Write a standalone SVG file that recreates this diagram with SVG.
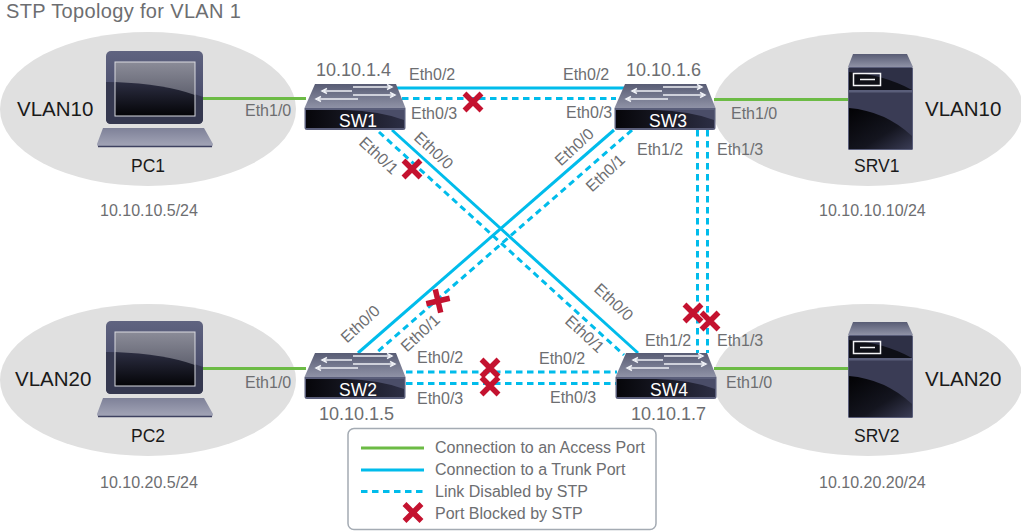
<svg xmlns="http://www.w3.org/2000/svg" width="1021" height="531" viewBox="0 0 1021 531">
<style>
text{font-family:"Liberation Sans",Arial,sans-serif;fill:#6d6e71;font-size:16px}
.ip{font-size:18px}
.tt{font-size:20px;letter-spacing:.35px}
.v{font-size:20.500px;fill:#1a1a1a}
.n{font-size:17.500px;fill:#1a1a1a}
.sw{font-size:17.500px;fill:#fff;text-anchor:middle}
.m{text-anchor:middle}
.zone{fill:#e0e0e0}
.acc{stroke:#6cbb45;stroke-width:3;fill:none}
.trk{stroke:#00bceb;stroke-width:3;fill:none}
.dis{stroke:#00bceb;stroke-width:3;fill:none;stroke-dasharray:6.500 4.500}
.x{stroke:#c4122f;stroke-width:5.500;fill:none}
.arr{stroke:#eef0f5;stroke-width:1.400;fill:none}
</style>
<defs>
<linearGradient id="front" x1="0" y1="0" x2="0" y2="1"><stop offset="0" stop-color="#5f6380"/><stop offset="1" stop-color="#3e4160"/></linearGradient>
<linearGradient id="top" x1="0" y1="0" x2="0" y2="1"><stop offset="0" stop-color="#585c74"/><stop offset="1" stop-color="#8f92a6"/></linearGradient>
<linearGradient id="scr" x1="0" y1="0" x2="0" y2="1"><stop offset="0" stop-color="#8b8c98"/><stop offset="1" stop-color="#474958"/></linearGradient>
<linearGradient id="scrd" x1="0" y1="0" x2="0" y2="1"><stop offset="0" stop-color="#2c2e42"/><stop offset="1" stop-color="#040407"/></linearGradient>
<linearGradient id="dark" x1="0" y1="0" x2="1" y2="0"><stop offset="0" stop-color="#06060a"/><stop offset="0.6" stop-color="#1c1d2a"/><stop offset="1" stop-color="#2c2e44"/></linearGradient>
<linearGradient id="srv" x1="0" y1="0" x2="1" y2="1"><stop offset="0" stop-color="#020204"/><stop offset="0.6" stop-color="#14151f"/><stop offset="1" stop-color="#3a3c55"/></linearGradient>
<linearGradient id="key" x1="0" y1="0" x2="0" y2="1"><stop offset="0" stop-color="#7e8198"/><stop offset="1" stop-color="#a4a6b8"/></linearGradient>
<g id="laptop">
<rect x="106" y="51" width="97" height="73" rx="5" fill="url(#front)"/>
<path d="M106 82Q165 82 203 97V119Q203 124 198 124H111Q106 124 106 119Z" fill="#35384f"/>
<rect x="115" y="62" width="80" height="54" fill="url(#scr)"/>
<path d="M115 82Q165 84 195 95V116H115Z" fill="url(#scrd)"/>
<rect x="115" y="62" width="80" height="54" fill="none" stroke="#d9dae0" stroke-width="1"/>
<path d="M103 128H204L213 144Q213 147 210 147H100Q97 147 97 144Z" fill="url(#key)"/>
<path d="M98 146.500H212" stroke="#3e4160" stroke-width="1.500"/>
</g>
<g id="switch">
<path d="M315 84H396L405.500 108H304.500Z" fill="url(#top)"/>
<path d="M304.500 108H405.500V127.500Q405.500 130 403 130H307Q304.500 130 304.500 127.500Z" fill="#5a5e7a"/>
<path d="M306 110H404V128H306Z" fill="url(#dark)"/>
<path d="M345 110H404V120Q380 111 345 110Z" fill="#4a4d68"/>
<path class="arr" d="M352 91H324M327 88.500L322 91L327 93.500M353 87H390M387 84.500L392 87L387 89.500M353 95H393M390 92.500L395 95L390 97.500M358 99H318M321 96.500L316 99L321 101.500"/>
</g>
<g id="server">
<path d="M853 54H907L913 67H848Z" fill="url(#top)"/>
<rect x="848" y="67" width="65" height="83" rx="1.500" fill="#5a5e7a"/>
<path d="M849 68H912V90H849Z" fill="#2e3046"/>
<path d="M849 72Q885 75 912 90H849Z" fill="#0e0f16"/>
<path d="M849 92.500H912V149H849Z" fill="#3a3c55"/>
<path d="M849 108Q885 111 912 136V149H849Z" fill="url(#srv)"/>
<rect x="853.500" y="73.500" width="27" height="12" fill="none" stroke="#f4f4f6" stroke-width="1.500"/>
<path d="M860 79.500H875" stroke="#f4f4f6" stroke-width="1.500"/>
</g>
<path id="xm" d="M-8.500 -8.500L8.500 8.500M8.500 -8.500L-8.500 8.500" class="x"/>
</defs>
<rect width="1021" height="531" fill="#fff"/>
<text class="tt" x="6" y="17.500">STP Topology for VLAN 1</text>
<ellipse class="zone" cx="148" cy="109" rx="148" ry="77"/>
<ellipse class="zone" cx="148" cy="380" rx="148" ry="76"/>
<ellipse class="zone" cx="868" cy="109" rx="155" ry="77"/>
<ellipse class="zone" cx="868" cy="380" rx="155" ry="76"/>
<g id="connectors">
<path class="acc" d="M203 98.500H306"/>
<path class="acc" d="M714 99.500H848"/>
<path class="acc" d="M203 368.500H306"/>
<path class="acc" d="M714 368.500H848"/>
<path class="trk" d="M396 88H624"/>
<path class="dis" d="M402 98.500H616"/>
<path class="trk" d="M392 130L638 353"/>
<path class="dis" d="M379 132L624 355"/>
<path class="trk" d="M614 130L358 353"/>
<path class="dis" d="M632 130L376 353"/>
<path class="dis" d="M697.500 130V353"/>
<path class="dis" d="M707.500 130V353"/>
<path class="dis" d="M406 372H617"/>
<path class="dis" d="M406 383.500H617"/>
</g>
<g id="blocks">
<use href="#xm" x="473" y="102"/>
<use href="#xm" x="412" y="169"/>
<use href="#xm" transform="translate(438 301) rotate(32)"/>
<use href="#xm" x="490" y="368"/>
<use href="#xm" x="490" y="386"/>
<use href="#xm" x="693" y="313"/>
<use href="#xm" x="710" y="321"/>
</g>
<g id="PC1"><use href="#laptop"/><text class="n" x="131" y="172">PC1</text><text class="v" x="17" y="116">VLAN10</text><text x="100" y="216">10.10.10.5/24</text></g>
<g id="PC2"><use href="#laptop" y="270"/><text class="n" x="131" y="442">PC2</text><text class="v" x="15" y="386">VLAN20</text><text x="100" y="488">10.10.20.5/24</text></g>
<g id="SRV1"><use href="#server"/><text class="n" x="854" y="172">SRV1</text><text class="v" x="925" y="116">VLAN10</text><text x="819" y="216">10.10.10.10/24</text></g>
<g id="SRV2"><use href="#server" y="268"/><text class="n" x="854" y="442">SRV2</text><text class="v" x="925" y="386">VLAN20</text><text x="819" y="488">10.10.20.20/24</text></g>
<g id="SW1"><use href="#switch"/><text class="sw" x="358" y="127">SW1</text><text class="ip" x="316" y="76">10.10.1.4</text></g>
<g id="SW3"><use href="#switch" x="310"/><text class="sw" x="668" y="127">SW3</text><text class="ip" x="626" y="76">10.10.1.6</text></g>
<g id="SW2"><use href="#switch" y="269"/><text class="sw" x="358" y="396">SW2</text><text class="ip" x="319" y="420">10.10.1.5</text></g>
<g id="SW4"><use href="#switch" x="311" y="269"/><text class="sw" x="669" y="396">SW4</text><text class="ip" x="631" y="420">10.10.1.7</text></g>
<g id="labels">
<text x="245" y="116">Eth1/0</text>
<text x="731" y="119">Eth1/0</text>
<text x="245" y="388">Eth1/0</text>
<text x="726" y="388">Eth1/0</text>
<text x="409" y="80">Eth0/2</text>
<text x="411" y="119">Eth0/3</text>
<text x="563" y="80">Eth0/2</text>
<text x="566" y="118">Eth0/3</text>
<text x="637" y="155">Eth1/2</text>
<text x="717" y="155">Eth1/3</text>
<text x="645" y="346">Eth1/2</text>
<text x="717" y="346">Eth1/3</text>
<text x="417" y="363">Eth0/2</text>
<text x="417" y="404">Eth0/3</text>
<text x="539" y="364">Eth0/2</text>
<text x="550" y="403">Eth0/3</text>
<text class="m" transform="translate(375 159.500) rotate(43)">Eth0/1</text>
<text class="m" transform="translate(430 154.500) rotate(43)">Eth0/0</text>
<text class="m" transform="translate(578 151) rotate(-43)">Eth0/0</text>
<text class="m" transform="translate(609 177) rotate(-43)">Eth0/1</text>
<text class="m" transform="translate(364 328) rotate(-43)">Eth0/0</text>
<text class="m" transform="translate(424 337) rotate(-43)">Eth0/1</text>
<text class="m" transform="translate(610 306) rotate(43)">Eth0/0</text>
<text class="m" transform="translate(581 338) rotate(43)">Eth0/1</text>
</g>
<g id="legend">
<rect x="348" y="428.500" width="308" height="101" rx="6" fill="#fff" stroke="#a4abb3" stroke-width="1.500"/>
<path class="acc" d="M361 448H424"/>
<path class="trk" d="M361 470H424"/>
<path class="dis" d="M361 491.500H424"/>
<use href="#xm" x="413" y="512.500"/>
<text x="435" y="453">Connection to an Access Port</text>
<text x="435" y="475">Connection to a Trunk Port</text>
<text x="435" y="497">Link Disabled by STP</text>
<text x="435" y="519">Port Blocked by STP</text>
</g>
</svg>
